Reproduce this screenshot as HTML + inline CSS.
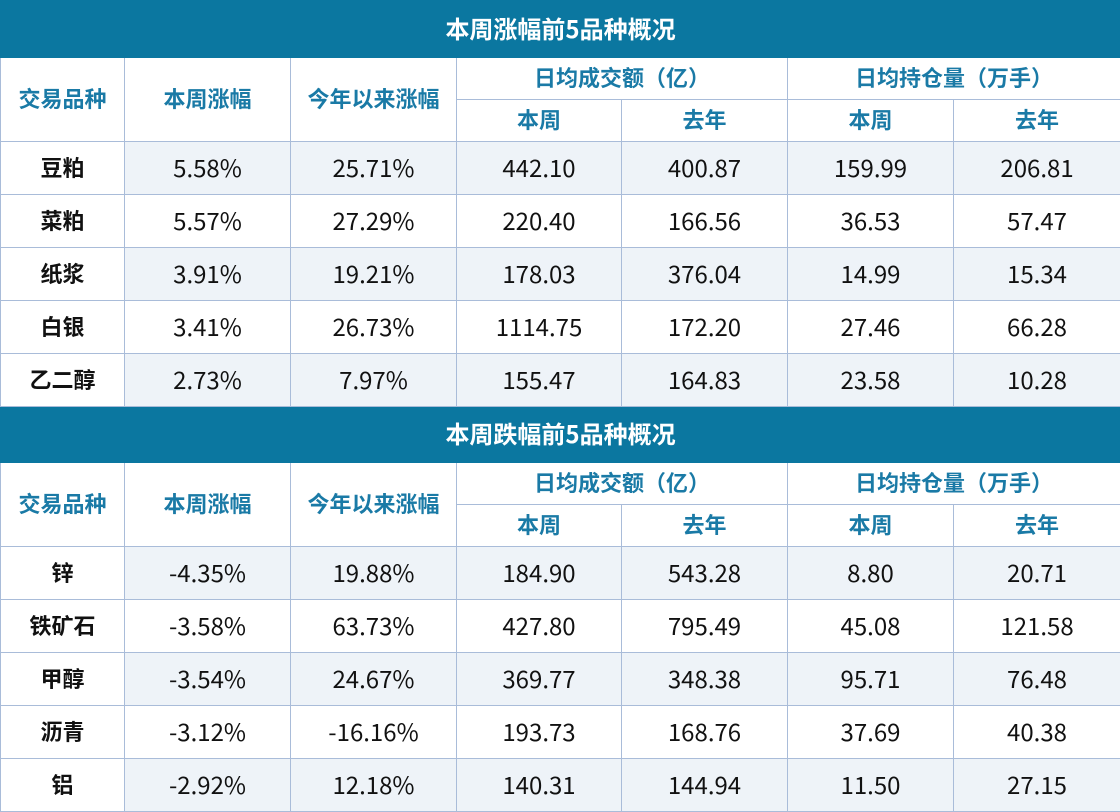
<!DOCTYPE html>
<html><head><meta charset="utf-8"><style>
html,body{margin:0;padding:0;background:#fff;}
body{width:1120px;height:812px;overflow:hidden;}
table{border-collapse:collapse;table-layout:fixed;width:1120px;font-family:"Noto Sans CJK SC","Liberation Sans",sans-serif;}
td{border:1px solid #a9bcd9;text-align:center;padding:0 0 3px 0;font-size:24px;color:#111;line-height:1;}
td.t{background:#0b77a0;color:#fff;font-weight:bold;font-size:24px;border-color:#0b77a0;}
td.h{color:#1a7aa6;font-weight:bold;font-size:22px;}
td.n{font-weight:bold;font-size:22px;}
tr.s td:not(.n){background:#eef3f8;}
tr.tt{height:57px;} tr.hh{height:42px;} tr.d{height:53px;}
</style></head><body>
<table>
<colgroup><col style="width:124px"><col style="width:166px"><col style="width:166px"><col style="width:165px"><col style="width:166px"><col style="width:166px"><col style="width:167px"></colgroup>
<tr class="tt"><td class="t" colspan="7">本周涨幅前5品种概况</td></tr>
<tr class="hh"><td class="h" rowspan="2">交易品种</td><td class="h" rowspan="2">本周涨幅</td><td class="h" rowspan="2">今年以来涨幅</td><td class="h" colspan="2">日均成交额（亿）</td><td class="h" colspan="2">日均持仓量（万手）</td></tr>
<tr class="hh"><td class="h">本周</td><td class="h">去年</td><td class="h">本周</td><td class="h">去年</td></tr>
<tr class="d s"><td class="n">豆粕</td><td>5.58%</td><td>25.71%</td><td>442.10</td><td>400.87</td><td>159.99</td><td>206.81</td></tr>
<tr class="d"><td class="n">菜粕</td><td>5.57%</td><td>27.29%</td><td>220.40</td><td>166.56</td><td>36.53</td><td>57.47</td></tr>
<tr class="d s"><td class="n">纸浆</td><td>3.91%</td><td>19.21%</td><td>178.03</td><td>376.04</td><td>14.99</td><td>15.34</td></tr>
<tr class="d"><td class="n">白银</td><td>3.41%</td><td>26.73%</td><td>1114.75</td><td>172.20</td><td>27.46</td><td>66.28</td></tr>
<tr class="d s"><td class="n">乙二醇</td><td>2.73%</td><td>7.97%</td><td>155.47</td><td>164.83</td><td>23.58</td><td>10.28</td></tr>
<tr class="tt" style="height:56px"><td class="t" colspan="7">本周跌幅前5品种概况</td></tr>
<tr class="hh"><td class="h" rowspan="2">交易品种</td><td class="h" rowspan="2">本周涨幅</td><td class="h" rowspan="2">今年以来涨幅</td><td class="h" colspan="2">日均成交额（亿）</td><td class="h" colspan="2">日均持仓量（万手）</td></tr>
<tr class="hh"><td class="h">本周</td><td class="h">去年</td><td class="h">本周</td><td class="h">去年</td></tr>
<tr class="d s"><td class="n">锌</td><td>-4.35%</td><td>19.88%</td><td>184.90</td><td>543.28</td><td>8.80</td><td>20.71</td></tr>
<tr class="d"><td class="n">铁矿石</td><td>-3.58%</td><td>63.73%</td><td>427.80</td><td>795.49</td><td>45.08</td><td>121.58</td></tr>
<tr class="d s"><td class="n">甲醇</td><td>-3.54%</td><td>24.67%</td><td>369.77</td><td>348.38</td><td>95.71</td><td>76.48</td></tr>
<tr class="d"><td class="n">沥青</td><td>-3.12%</td><td>-16.16%</td><td>193.73</td><td>168.76</td><td>37.69</td><td>40.38</td></tr>
<tr class="d s"><td class="n">铝</td><td>-2.92%</td><td>12.18%</td><td>140.31</td><td>144.94</td><td>11.50</td><td>27.15</td></tr>
</table>
</body></html>
